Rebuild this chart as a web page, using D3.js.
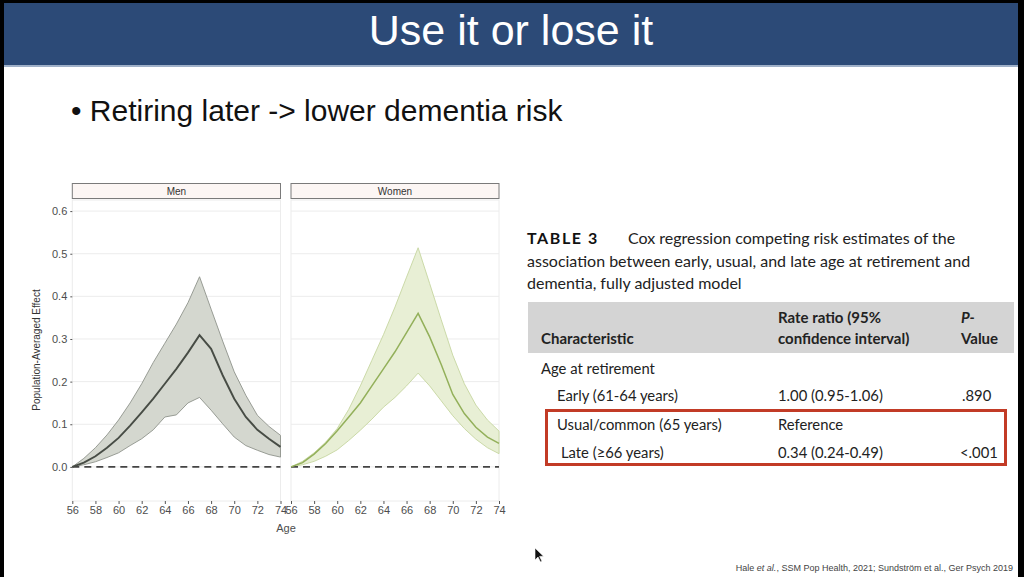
<!DOCTYPE html>
<html><head><meta charset="utf-8">
<script src="https://cdn.jsdelivr.net/npm/d3@7"></script>
<style>body{margin:0;background:#000;}svg{display:block;}</style>
</head><body>
<svg id="c" width="1024" height="577"></svg>
<script>
// ---- data ----
const ages = [56,57,58,59,60,61,62,63,64,65,66,67,68,69,70,71,72,73,74];
const menMean  = [0,0.010,0.025,0.045,0.068,0.097,0.128,0.160,0.195,0.230,0.268,0.309,0.277,0.215,0.160,0.117,0.087,0.066,0.047];
const menLower = [0,0.005,0.012,0.022,0.033,0.050,0.066,0.087,0.117,0.122,0.150,0.163,0.133,0.101,0.070,0.050,0.039,0.029,0.023];
const menUpper = [0,0.020,0.045,0.075,0.110,0.150,0.195,0.245,0.290,0.335,0.385,0.446,0.370,0.295,0.223,0.168,0.121,0.095,0.074];
const womenMean  = [0,0.010,0.030,0.055,0.085,0.117,0.150,0.190,0.230,0.270,0.315,0.360,0.305,0.240,0.170,0.125,0.093,0.070,0.055];
const womenLower = [0,0.005,0.013,0.025,0.040,0.062,0.086,0.112,0.140,0.163,0.190,0.220,0.190,0.155,0.120,0.090,0.065,0.045,0.031];
const womenUpper = [0,0.013,0.033,0.058,0.090,0.135,0.190,0.250,0.310,0.375,0.445,0.514,0.430,0.345,0.262,0.195,0.145,0.110,0.084];
const panels = ["Men","Women"];
const yTicks = [0.0,0.1,0.2,0.3,0.4,0.5,0.6];
const xTicks = [56,58,60,62,64,66,68,70,72,74];
const titleText = "Use it or lose it";
const bulletText = "Retiring later -> lower dementia risk";
const tableCaptionLines = ["Cox regression competing risk estimates of the",
  "association between early, usual, and late age at retirement and",
  "dementia, fully adjusted model"];
const headerCols = [["Characteristic"],["Rate ratio (95%","confidence interval)"],["P-","Value"]];
const rowLabels = ["Age at retirement","Early (61-64 years)","Usual/common (65 years)","Late (\u226566 years)"];
const rowRates = ["","1.00 (0.95-1.06)","Reference","0.34 (0.24-0.49)"];
const rowP = ["",".890","","<.001"];

// ---- page ----
const svg = d3.select("#c");
svg.append("rect").attr("x",0).attr("y",0).attr("width",1024).attr("height",577).attr("fill","#000");
svg.append("rect").attr("x",4).attr("y",3).attr("width",1014).attr("height",574).attr("fill","#fff");
svg.append("rect").attr("x",4).attr("y",3).attr("width",1014).attr("height",63).attr("fill","#2c4a77");
svg.append("rect").attr("x",4).attr("y",65).attr("width",1014).attr("height",2).attr("fill","#9fb0c8");
svg.append("text").attr("x",511).attr("y",45).attr("text-anchor","middle")
  .attr("font-family","Liberation Sans, Arial, sans-serif").attr("font-size",43).attr("fill","#fff").text(titleText);
svg.append("text").attr("x",71).attr("y",121).attr("font-family","Liberation Sans, Arial, sans-serif")
  .attr("font-size",30).attr("fill","#111").text("\u2022 " + bulletText);

// ---- chart ----
const y = d3.scaleLinear().domain([-0.08,0.626]).range([501,200]);
const xRanges = [[72.3,280.5],[291,499]];
const colors = [
  {fill:"#d4d7cf", stroke:"#8f938b", line:"#474c45", lw:1.9},
  {fill:"#e8efd5", stroke:"#c6d6a0", line:"#93b05a", lw:1.5}
];
const series = [
  {mean:menMean, lower:menLower, upper:menUpper},
  {mean:womenMean, lower:womenLower, upper:womenUpper}
];
const font = "Liberation Sans, Arial, sans-serif";

panels.forEach((name,i)=>{
  const x = d3.scaleLinear().domain([56,74]).range(xRanges[i]);
  const g = svg.append("g");
  const [x0,x1] = xRanges[i];
  g.append("rect").attr("x",x0).attr("y",200).attr("width",x1-x0).attr("height",301)
    .attr("fill","#fff").attr("stroke","#ececec").attr("stroke-width",1);
  g.selectAll(".gy").data(yTicks).join("line")
    .attr("x1",x0).attr("x2",x1).attr("y1",d=>y(d)).attr("y2",d=>y(d))
    .attr("stroke","#ececec").attr("stroke-width",1);
  g.append("rect").attr("x",x0).attr("y",183.5).attr("width",x1-x0).attr("height",15)
    .attr("fill","#fcf6f4").attr("stroke","#7a7a7a").attr("stroke-width",1);
  g.append("text").attr("x",(x0+x1)/2).attr("y",194.5).attr("text-anchor","middle")
    .attr("font-family",font).attr("font-size",10).attr("fill","#333").text(name);
  const s = series[i];
  const data = ages.map((a,k)=>({a, m:s.mean[k], lo:s.lower[k], hi:s.upper[k]}));
  const area = d3.area().x(d=>x(d.a)).y0(d=>y(d.lo)).y1(d=>y(d.hi));
  g.append("path").datum(data).attr("d",area).attr("fill",colors[i].fill)
    .attr("stroke",colors[i].stroke).attr("stroke-width",0.9);
  g.append("line").attr("x1",x0).attr("x2",x1).attr("y1",y(0)).attr("y2",y(0))
    .attr("stroke","#444").attr("stroke-width",1.7).attr("stroke-dasharray","7,5");
  g.append("path").datum(data).attr("d",d3.line().x(d=>x(d.a)).y(d=>y(d.m)))
    .attr("fill","none").attr("stroke",colors[i].line).attr("stroke-width",colors[i].lw);
  const xa = g.append("g").attr("transform","translate(0,501)")
    .call(d3.axisBottom(x).tickValues(xTicks).tickSize(3).tickPadding(2).tickFormat(d3.format("d")));
  xa.select(".domain").remove();
  xa.selectAll("line").attr("stroke","#555");
  xa.selectAll("text").attr("font-family",font).attr("font-size",11).attr("fill","#4d4d4d");
  if(i===0){
    const ya = g.append("g").attr("transform",`translate(${x0},0)`)
      .call(d3.axisLeft(y).tickValues(yTicks).tickSize(2).tickPadding(3).tickFormat(d3.format(".1f")));
    ya.select(".domain").remove();
    ya.selectAll("line").attr("stroke","#555");
    ya.selectAll("text").attr("font-family",font).attr("font-size",11).attr("fill","#4d4d4d");
  }
});
svg.append("text").attr("transform","translate(40,350) rotate(-90)").attr("text-anchor","middle")
  .attr("font-family",font).attr("font-size",10).attr("fill","#333").text("Population-Averaged Effect");
svg.append("text").attr("x",286).attr("y",532).attr("text-anchor","middle")
  .attr("font-family",font).attr("font-size",11).attr("fill","#4d4d4d").text("Age");

// ---- table ----
const tf = "Lato, 'Open Sans', sans-serif";
const t = svg.append("g").attr("font-family",tf).attr("fill","#222");
t.append("text").attr("x",527).attr("y",244).attr("font-size",16).attr("font-weight","bold")
  .attr("letter-spacing",1.6).attr("fill","#111").text("TABLE 3");
t.selectAll(".cap").data(tableCaptionLines).join("text")
  .attr("x",(d,k)=>k===0?628:527).attr("y",(d,k)=>244+k*22.5)
  .attr("font-size",16).attr("fill","#222").text(d=>d);
t.append("rect").attr("x",528).attr("y",302).attr("width",486).attr("height",51).attr("fill","#d4d4d4");
const colX = [541,778,961];
headerCols.forEach((lines,c)=>{
  lines.forEach((ln,k)=>{
    const yy = 344 - (lines.length-1-k)*21.5;
    t.append("text").attr("x",colX[c]).attr("y",yy).attr("font-size",15).attr("font-weight","bold")
      .attr("font-style",(c===2&&k===0)?"italic":"normal").attr("fill","#222").text(ln);
  });
});
const rowY = [374,401,430,458];
const rowIndent = [541,557,557,561];
rowLabels.forEach((lab,k)=>{
  t.append("text").attr("x",rowIndent[k]).attr("y",rowY[k]).attr("font-size",14.8).text(lab);
  t.append("text").attr("x",778).attr("y",rowY[k]).attr("font-size",14.8).text(rowRates[k]);
  t.append("text").attr("x",k===3?960:962).attr("y",rowY[k]).attr("font-size",14.8).text(rowP[k]);
});
t.append("rect").attr("x",546.5).attr("y",410.5).attr("width",459).attr("height",54)
  .attr("fill","none").attr("stroke","#c23b26").attr("stroke-width",3);

// ---- footer ----
const foot = svg.append("text").attr("x",1013).attr("y",571).attr("text-anchor","end")
  .attr("font-family",font).attr("font-size",9).attr("fill","#444");
foot.append("tspan").text("Hale ");
foot.append("tspan").attr("font-style","italic").text("et al.");
foot.append("tspan").text(", SSM Pop Health, 2021; Sundstr\u00f6m et al., Ger Psych 2019");

// cursor
svg.append("path").attr("d","M535,548 L535,560 L538,557 L540.5,562 L542,561.3 L539.6,556.4 L543.5,556.2 Z")
  .attr("fill","#111").attr("stroke","#fff").attr("stroke-width",0.6);
</script>
</body></html>
